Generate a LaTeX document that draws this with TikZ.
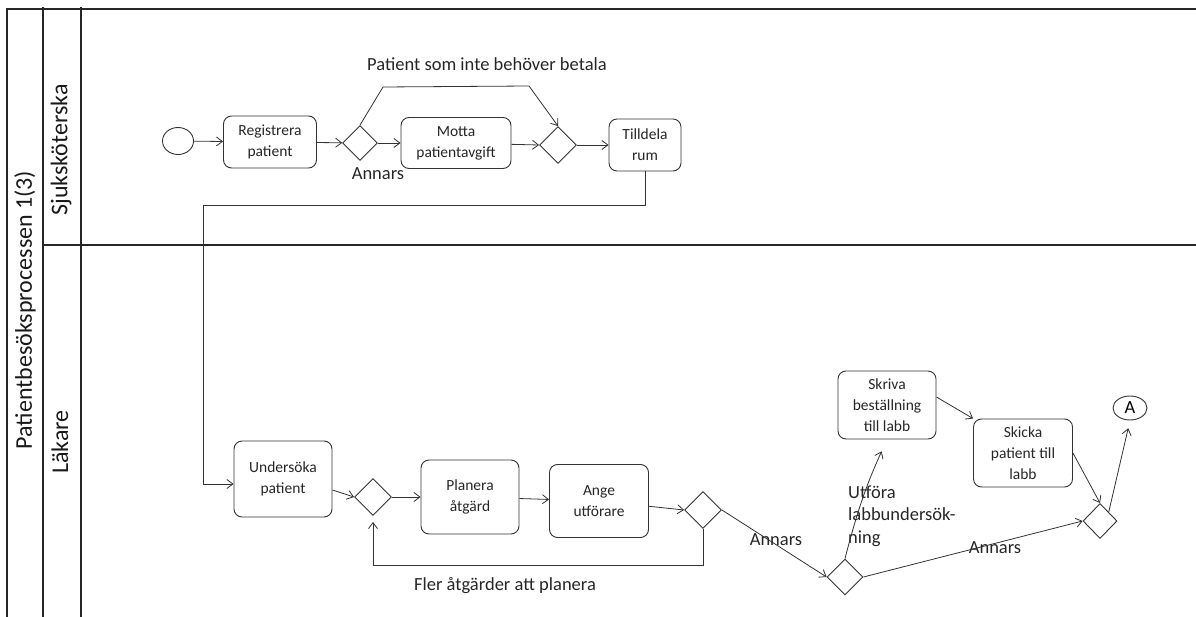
\documentclass[tikz,border=0pt]{standalone}
\usepackage{fontspec}
\setmainfont{Carlito}
\usetikzlibrary{shapes.geometric,arrows.meta}
\tikzset{
  lane line/.style={line width=1.3pt, black!85},
  flow/.style={->, line width=0.8pt, black!80},
  task/.style={draw=black!80, line width=0.9pt, rounded corners=8pt, align=center,
    inner sep=1pt, text=black!85, font=\fontsize{15.5}{21}\selectfont},
  gate/.style={draw=black!80, diamond, line width=0.9pt, minimum width=37pt,
    minimum height=37pt, inner sep=0pt},
  event/.style={draw=black!80, ellipse, line width=0.9pt, inner sep=0pt},
  lbl/.style={text=black!85, inner sep=0pt, font=\fontsize{18.5}{22.5}\selectfont},
  lane label/.style={rotate=90, text=black!90, font=\fontsize{24}{28}\selectfont}
}
\begin{document}
\begin{tikzpicture}[x=1pt,y=-1pt,>={Straight Barb[length=6pt,width=9pt]}]
  \useasboundingbox (0,0) rectangle (1196,617);
  % pool and lanes
  \draw[lane line] (7,617) -- (7,9) -- (1196,9);
  \draw[lane line] (43,7) -- (43,617);
  \draw[lane line] (81,7) -- (81,617);
  \draw[lane line] (43,245) -- (1196,245);
  \node[lane label] (pool) at (25,310) {Patientbesöksprocessen 1(3)};
  \node[lane label] (nurse) at (61,150) {Sjuksköterska};
  \node[lane label] (doctor) at (60,442) {Läkare};

  % Sjuksköterska
  \node[event, minimum width=31pt, minimum height=27pt] (start) at (178,141) {};
  \node[task, minimum width=93pt, minimum height=52pt] (reg) at (270,142) {Registrera\\patient};
  \node[gate, minimum width=35pt, minimum height=35pt] (d1) at (360,143) {};
  \node[task, minimum width=110pt, minimum height=51pt] (motta) at (456,143) {Motta\\patientavgift};
  \node[gate] (d2) at (558,145) {};
  \node[task, minimum width=72pt, minimum height=52pt] (rum) at (645,145) {Tilldela\\rum};
  \node[lbl] (nopay) at (487,64) {Patient som inte behöver betala};
  \node[lbl] (else1) at (378,174) {Annars};
  \coordinate (byp1) at (383,87);
  \coordinate (byp2) at (529,86);
  \coordinate (hand) at (203,205);

  \draw[flow] (start) -- (reg);
  \draw[flow] (reg) -- (d1);
  \draw[flow] (d1.east) -- (motta);
  \draw[flow] (motta) -- (d2.west);
  \draw[flow] (d2.east) -- (rum);
  \draw[flow] (d1.north) -- (byp1) -- (byp2) -- (d2.north);

  % Läkare
  \node[task, minimum width=98pt, minimum height=76pt] (unders) at (283,479) {Undersöka\\patient};
  \node[gate] (d3) at (373,497) {};
  \node[task, minimum width=98pt, minimum height=74pt] (planera) at (470,497) {Planera\\åtgärd};
  \node[task, minimum width=99pt, minimum height=73pt] (ange) at (599,501) {Ange\\utförare};
  \node[gate] (d4) at (703,510) {};
  \node[gate, minimum width=36pt, minimum height=36pt] (d5) at (845,577) {};
  \node[task, minimum width=98pt, minimum height=68pt] (skriva) at (887,405) {Skriva\\beställning\\till labb};
  \node[task, minimum width=99pt, minimum height=68pt] (skicka) at (1023,453) {Skicka\\patient till\\labb};
  \node[gate, minimum width=34pt, minimum height=35pt] (d6) at (1100,521) {};
  \node[event, minimum width=34pt, minimum height=24pt, font=\fontsize{18.5}{22}\selectfont] (A) at (1130,408) {A};
  \node[lbl] (more) at (505,586) {Fler åtgärder att planera};
  \node[lbl] (else2) at (776,540) {Annars};
  \node[lbl, align=left, anchor=west] (lab) at (848,516) {Utföra\\labbundersök-\\ning};
  \node[lbl] (else3) at (995,548) {Annars};
  \coordinate (loop) at (373,565);

  \draw[flow] (rum.south) -- (rum.south |- hand) -- (hand) |- ([yshift=-5pt]unders.west);
  \draw[flow] ([yshift=-11pt]unders.east) -- (d3.west);
  \draw[flow] (d3.east) -- (planera);
  \draw[flow] (planera) -- (ange);
  \draw[flow] (ange) -- (d4.west);
  \draw[flow] (d4.south) |- (loop) -- ([yshift=-6pt]d3.south);
  \draw[flow] (d4.east) -- (d5.west);
  \draw[flow, shorten >=13pt] (d5.north) to[bend left=5] (skriva.south);
  \draw[flow] (skriva.east) ++(0,-8) -- (skicka.north west);
  \draw[flow] (d5.east) -- (d6.west);
  \draw[flow] (skicka.east) -- (d6.north);
  \draw[flow, shorten >=8pt] (d6.north east) -- (A.south);
\end{tikzpicture}
\end{document}
